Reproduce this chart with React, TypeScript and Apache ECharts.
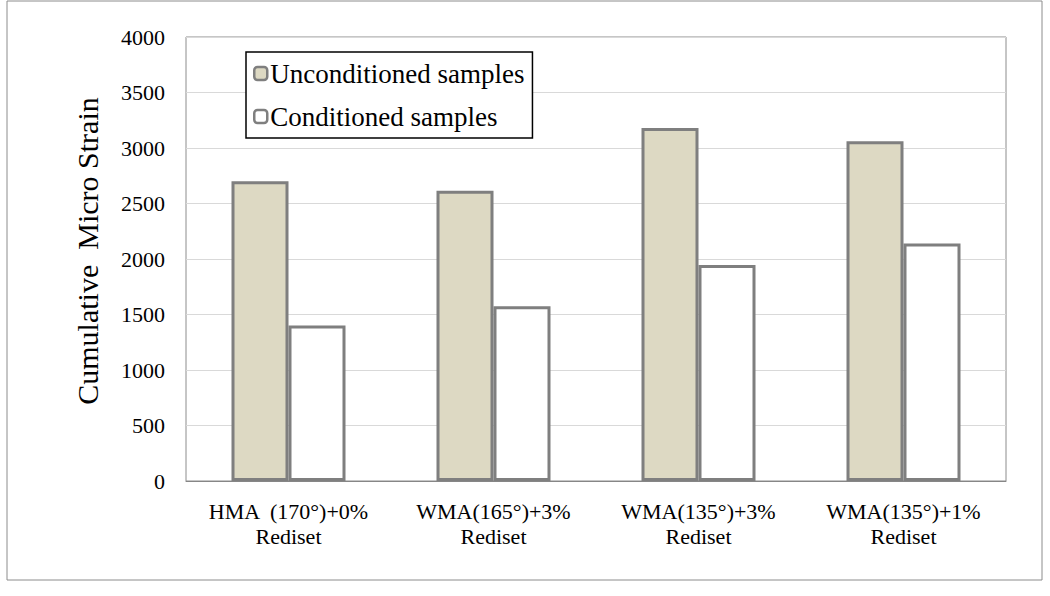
import React, { useEffect, useRef } from "react";
import * as echarts from "echarts";

const categories = [
  "HMA  (170°)+0%\nRediset",
  "WMA(165°)+3%\nRediset",
  "WMA(135°)+3%\nRediset",
  "WMA(135°)+1%\nRediset",
];
const unconditioned = [2700, 2615, 3180, 3060];
const conditioned = [1400, 1575, 1945, 2140];
const seriesNames = ["Unconditioned samples", "Conditioned samples"];

const FONT = "Liberation Serif";

export default function App() {
  const ref = useRef<HTMLDivElement>(null);
  useEffect(() => {
    if (!ref.current) return;
    const chart = echarts.init(ref.current, undefined, { renderer: "svg" });
    chart.setOption({
      animation: false,
      backgroundColor: "#ffffff",
      textStyle: { fontFamily: FONT },
      grid: {
        left: 186,
        right: 1050 - 1006,
        top: 37,
        bottom: 596 - 481,
        show: true,
        borderColor: "#8c8c8c",
        borderWidth: 1,
      },
      legend: {
        orient: "vertical",
        left: 246,
        top: 52,
        padding: [8, 8, 8, 7],
        itemGap: 16,
        itemWidth: 13,
        itemHeight: 13,
        borderColor: "#000000",
        borderWidth: 1.5,
        backgroundColor: "#ffffff",
        itemStyle: { borderColor: "#7f7f7f", borderWidth: 2.5 },
        textStyle: { fontFamily: FONT, fontSize: 27, color: "#000", padding: [0, 0, 0, -2] },
        data: seriesNames,
      },
      graphic: [
        {
          type: "rect",
          shape: { x: 7, y: 1, width: 1035, height: 579 },
          style: { fill: "none", stroke: "#8c8c8c", lineWidth: 1 },
          silent: true,
          z: -10,
        },
      ],
      xAxis: {
        type: "category",
        data: categories,
        axisLine: { show: true, lineStyle: { color: "#868686", width: 1 } },
        axisTick: { show: false },
        axisLabel: {
          fontFamily: FONT,
          fontSize: 22,
          color: "#000",
          lineHeight: 25,
          margin: 18,
          interval: 0,
        },
      },
      yAxis: {
        type: "value",
        min: 0,
        max: 4000,
        interval: 500,
        name: "Cumulative  Micro Strain",
        nameLocation: "middle",
        nameGap: 84,
        nameTextStyle: {
          fontFamily: FONT,
          fontSize: 30,
          color: "#000",
          padding: [0, 0, 0, 16],
        },
        axisLine: { show: false },
        axisTick: { show: false },
        axisLabel: {
          fontFamily: FONT,
          fontSize: 22,
          color: "#000",
          margin: 21,
          formatter: (v: number) => String(v),
        },
        splitLine: { lineStyle: { color: "#d9d9d9", width: 1 } },
      },
      series: [
        {
          name: seriesNames[0],
          type: "bar",
          data: unconditioned,
          barWidth: 57,
          barGap: "0%",
          itemStyle: { color: "#ddd9c3", borderColor: "#7f7f7f", borderWidth: 3 },
        },
        {
          name: seriesNames[1],
          type: "bar",
          data: conditioned,
          barWidth: 57,
          barGap: "0%",
          itemStyle: { color: "#ffffff", borderColor: "#7f7f7f", borderWidth: 3 },
        },
      ],
    });
    return () => chart.dispose();
  }, []);
  return (
    <div
      ref={ref}
      style={{ position: "absolute", left: 0, top: 0, width: 1050, height: 596 }}
    />
  );
}
